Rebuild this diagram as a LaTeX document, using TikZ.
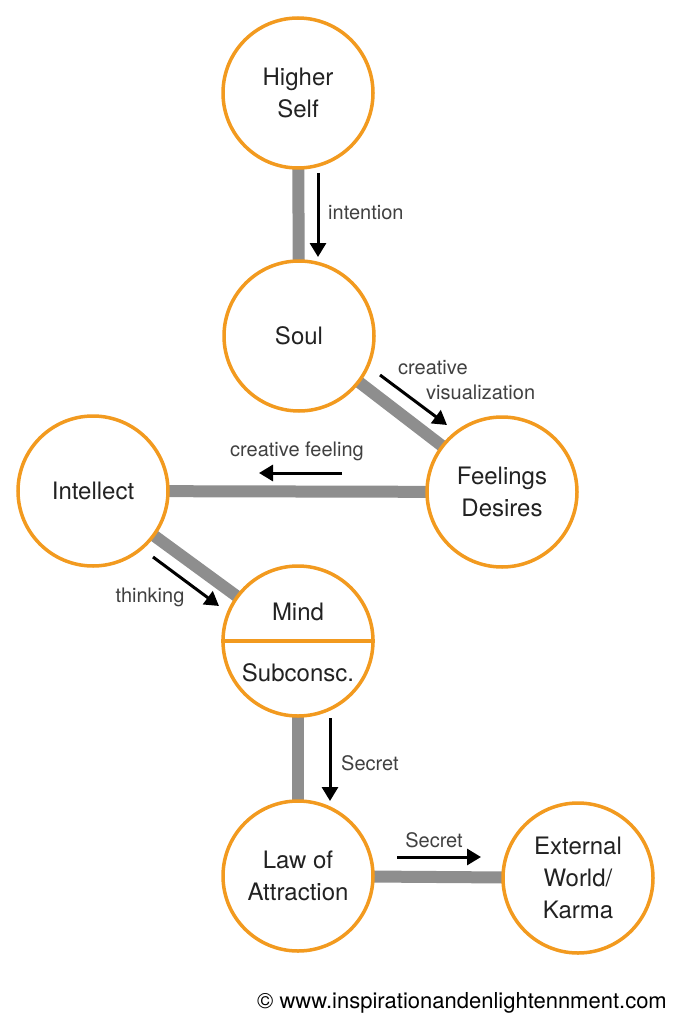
\documentclass[tikz,border=0pt]{standalone}
\usepackage{fontspec}
\setmainfont{TeX Gyre Heros}
\usepackage{tikz}
\usetikzlibrary{arrows.meta,backgrounds}
\definecolor{ringorange}{HTML}{F29A1F}
\definecolor{bargray}{HTML}{8E8E8E}
\definecolor{inktext}{HTML}{222222}
\definecolor{labeltext}{HTML}{404040}

\begin{document}
\begin{tikzpicture}[x=1pt, y=-1pt,
  ring/.style={circle,draw=ringorange,fill=white,line width=3.5pt,
    minimum size=150pt,inner sep=0pt,align=center,text=inktext,
    font=\fontsize{24}{32}\selectfont},
  word/.style={text=inktext,inner sep=0pt,font=\fontsize{24}{32}\selectfont},
  bar/.style={draw=bargray,line width=12pt},
  ar/.style={-{Triangle[length=14pt,width=16pt]},line width=3pt,black},
  lbl/.style={text=labeltext,inner sep=0pt,font=\fontsize{20}{24}\selectfont}
]
\useasboundingbox (0,0) rectangle (674,1024);

% ==================== CIRCLES ====================
\node[ring] (hself) at (298, 93) {Higher\\Self};
\node[ring] (soul) at (299, 336) {Soul};
\node[ring] (feel) at (502, 492) {Feelings\\Desires};
\node[ring] (intel) at (93, 491) {Intellect};
\node[ring] (mind) at (298, 641) {};
\node[ring] (law) at (298, 876) {Law of\\Attraction};
\node[ring] (world) at (578, 878) {External\\World/\\Karma};

\draw[draw=ringorange, line width=3.5pt] (mind.west) -- (mind.east);
\node[word] (mind_top) at (298, 612) {Mind};
\node[word] (mind_bot) at (298, 673) {Subconsc.};

% ==================== GRAY LINKS ====================
\begin{scope}[on background layer]
  \draw[bar] (hself.center) -- (soul.center);
  \draw[bar] (soul.center) -- (feel.center);
  \draw[bar] (feel.center) -- (intel.center);
  \draw[bar] (intel.center) -- (mind.center);
  \draw[bar] (mind.center) -- (law.center);
  \draw[bar] (law.center) -- (world.center);
\end{scope}

% ==================== FLOW ARROWS ====================
\coordinate (int_s) at (318, 173);
\coordinate (int_e) at (318, 257);
\draw[ar] (int_s) -- (int_e);
\node[lbl, anchor=west] (int_lbl) at (328, 213) {intention};

\coordinate (vis_s) at (380, 375);
\coordinate (vis_e) at (447, 425);
\draw[ar] (vis_s) -- (vis_e);
\node[lbl, anchor=west] (vis_lbl1) at (398, 368) {creative};
\node[lbl, anchor=west] (vis_lbl2) at (426, 392) {visualization};

\coordinate (cf_s) at (342, 473);
\coordinate (cf_e) at (259, 473);
\draw[ar] (cf_s) -- (cf_e);
\node[lbl] (cf_lbl) at (297, 451) {creative feeling};

\coordinate (th_s) at (153, 557);
\coordinate (th_e) at (219, 606);
\draw[ar] (th_s) -- (th_e);
\node[lbl] (th_lbl) at (150, 597) {thinking};

\coordinate (sc_s) at (330, 718);
\coordinate (sc_e) at (330, 801);
\draw[ar] (sc_s) -- (sc_e);
\node[lbl, anchor=west] (sc_lbl) at (341, 763) {Secret};

\coordinate (sw_s) at (397, 857);
\coordinate (sw_e) at (481, 857);
\draw[ar] (sw_s) -- (sw_e);
\node[lbl] (sw_lbl) at (434, 840) {Secret};

% ==================== FOOTER ====================
\node[lbl, text=black, font=\fontsize{22}{26}\selectfont] (credit) at (462, 1003)
  {\textcopyright\ www.inspirationandenlightennment.com};

\end{tikzpicture}
\end{document}
